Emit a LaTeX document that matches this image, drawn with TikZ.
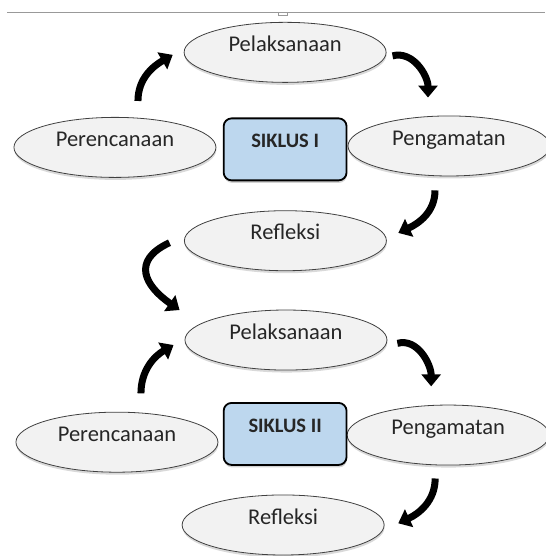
\documentclass[tikz,border=0pt]{standalone}
\usepackage{fontspec}
\setmainfont{Carlito}
\usetikzlibrary{shapes.geometric,shadows,arrows.meta}
\definecolor{stagefill}{HTML}{F2F2F2}
\definecolor{boxblue}{HTML}{BDD7EE}
\tikzset{
stage/.style={ellipse, draw=black!75, line width=.8pt, fill=stagefill, minimum width=7.1cm, minimum height=2.11cm, inner sep=0pt, text height=16pt, text depth=17.6pt, text=black!85, font=\fontsize{22.5}{27}\selectfont, drop shadow={shadow xshift=.4pt, shadow yshift=-2.5pt, opacity=.3}},
siklus/.style={rectangle, rounded corners=8pt, draw=black, line width=1.8pt, fill=boxblue, minimum width=4.32cm, minimum height=2.18cm, inner sep=0pt, text height=15pt, text depth=17.8pt, text=black!85, font=\fontsize{20.5}{24}\selectfont\bfseries, drop shadow={shadow xshift=.4pt, shadow yshift=-2.5pt, opacity=.35}},
cyc/.style={line width=7pt, -{Triangle[width=19pt,length=12pt]}}
}
\begin{document}
\begin{tikzpicture}
\useasboundingbox (0,0) rectangle (19.16,19.54);
\draw[black!40, line width=.6pt] (.25,19.11)--(19.16,19.11);
\draw[black!40, line width=.6pt] (9.78,19.11)--(9.78,18.99)--(10.08,18.99)--(10.08,19.11);

\node[stage] (pel1) at (10.02,17.70) {Pelaksanaan};
\node[stage] (per1) at (4.04,14.36) {Perencanaan};
\node[stage] (pen1) at (15.78,14.41) {Pengamatan};
\node[siklus] (sik1) at (10.02,14.29) {SIKLUS I};
\node[stage] (ref1) at (10.03,11.08) {Refleksi};

\node[stage] (pel2) at (10.05,7.59) {Pelaksanaan};
\node[stage] (per2) at (4.11,4.00) {Perencanaan};
\node[stage] (pen2) at (15.75,4.25) {Pengamatan};
\node[siklus] (sik2) at (10.02,4.29) {SIKLUS II};
\node[stage] (ref2) at (9.95,1.09) {Refleksi};

\draw[cyc] ([xshift=23pt,yshift=16pt]per1.north) to[out=90,in=210] ([xshift=-11pt,yshift=-2.5pt]pel1.west);
\draw[cyc] ([xshift=6pt,yshift=-3.5pt]pel1.east) to[out=15,in=90] ([xshift=-21pt,yshift=18pt]pen1.north);
\draw[cyc] ([xshift=-14pt,yshift=-14pt]pen1.south) to[out=-90,in=25] ([xshift=11.5pt,yshift=7.8pt]ref1.east);
\draw[cyc] ([xshift=-14.5pt,yshift=-2pt]ref1.west) to[out=205,in=145,looseness=1.6] ([xshift=-5pt,yshift=30pt]pel2.west);

\draw[cyc] ([xshift=24pt,yshift=18.4pt]per2.north) to[out=90,in=210] ([xshift=-11pt,yshift=-5pt]pel2.west);
\draw[cyc] ([xshift=10pt,yshift=-3.3pt]pel2.east) to[out=15,in=90] ([xshift=-17pt,yshift=18.3pt]pen2.north);
\draw[cyc] ([xshift=-13pt,yshift=-13pt]pen2.south) to[out=-90,in=25] ([xshift=13.7pt,yshift=1.7pt]ref2.east);
\end{tikzpicture}
\end{document}
